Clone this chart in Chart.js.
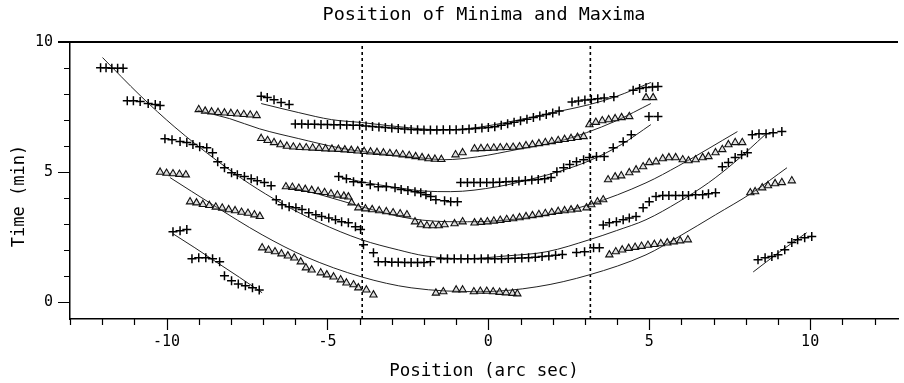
<!DOCTYPE html>
<html>
<head>
<meta charset="utf-8">
<title>Position of Minima and Maxima</title>
<script src="https://cdn.jsdelivr.net/npm/chart.js@4/dist/chart.umd.min.js"></script>
<style>
  html, body { margin: 0; padding: 0; background: #fff; overflow: hidden; }
  canvas { display: block; }
</style>
</head>
<body>
<canvas id="grafico" width="904" height="383"></canvas>
<script>
// axis ranges and labels
const xMin = -13, xMax = 12.73;
const yMin = -0.65, yMax = 10;
const titleText = 'Position of Minima and Maxima';
const xTitle = 'Position (arc sec)';
const yTitle = 'Time (min)   ';
const dashX = [-3.92, 3.17];

// maxima (+), [position, time]
const maxTop = [[-7.06,7.92],[-6.87,7.87],[-6.66,7.79],[-6.44,7.68],[-6.19,7.60],
  [-6.0,6.85],[-5.8,6.85],[-5.6,6.84],[-5.4,6.84],[-5.2,6.83],[-5.0,6.83],[-4.8,6.82],[-4.6,6.82],[-4.4,6.81],[-4.2,6.80],
  [-4.0,6.80],[-3.8,6.78],[-3.6,6.76],[-3.4,6.74],[-3.2,6.72],[-3.0,6.70],[-2.8,6.68],[-2.6,6.66],[-2.4,6.64],[-2.2,6.63],
  [-2.0,6.62],[-1.8,6.62],[-1.6,6.62],[-1.4,6.63],[-1.2,6.63],[-1.0,6.63],[-0.8,6.64],[-0.6,6.66],[-0.4,6.68],[-0.2,6.70],
  [0.0,6.72],[0.2,6.75],[0.4,6.80],[0.6,6.86],[0.8,6.92],[1.0,6.98],[1.2,7.04],[1.4,7.10],[1.6,7.16],[1.8,7.22],
  [2.0,7.28],[2.2,7.35],[2.6,7.70],[2.8,7.74],[3.0,7.78],[3.2,7.80],[3.4,7.82],[3.6,7.85],[3.9,7.90],
  [4.5,8.15],[4.7,8.22],[4.9,8.26],[5.1,8.28],[5.27,8.30]];
const maxMid = [[-4.65,4.83],[-4.41,4.75],[-4.19,4.63],[-3.94,4.60],[-3.67,4.52],[-3.42,4.44],[-3.17,4.44],[-2.90,4.40],
  [-2.71,4.33],[-2.50,4.29],[-2.28,4.25],[-2.10,4.21],[-1.94,4.13],[-1.79,4.06],[-1.63,3.94],[-1.36,3.90],[-1.17,3.86],[-0.96,3.86],
  [-0.86,4.60],[-0.65,4.60],[-0.45,4.60],[-0.25,4.60],[-0.05,4.60],[0.15,4.60],[0.35,4.61],[0.55,4.63],[0.75,4.64],[0.95,4.66],
  [1.15,4.68],[1.35,4.70],[1.55,4.72],[1.75,4.75],[1.95,4.79],
  [2.13,5.02],[2.34,5.17],[2.53,5.29],[2.74,5.40],[2.96,5.48],[3.14,5.56],[3.36,5.60],[3.60,5.60],[3.88,5.94],[4.19,6.17],[4.44,6.44],
  [4.99,7.14],[5.27,7.14]];
const maxLong = [[-12.05,9.02],[-11.88,9.02],[-11.70,9.00],[-11.52,9.00],[-11.35,9.00],
  [-11.22,7.75],[-11.03,7.75],[-10.82,7.72],[-10.57,7.64],[-10.35,7.60],[-10.20,7.56],
  [-10.05,6.29],[-9.83,6.25],[-9.58,6.18],[-9.37,6.14],[-9.18,6.06],[-8.97,5.98],[-8.75,5.94],[-8.57,5.75],
  [-8.41,5.40],[-8.20,5.17],[-7.98,4.98],[-7.80,4.90],[-7.58,4.83],[-7.37,4.75],[-7.18,4.67],[-6.96,4.60],[-6.75,4.48],
  [-6.59,3.94],[-6.41,3.75],[-6.19,3.67],[-5.98,3.63],[-5.79,3.56],[-5.58,3.44],[-5.36,3.36],[-5.18,3.29],[-4.96,3.24],
  [-4.75,3.17],[-4.56,3.09],[-4.35,3.05],[-4.13,2.90],[-3.97,2.79],
  [-3.88,2.21],[-3.57,1.90],
  [-3.42,1.55],[-3.20,1.55],[-3.00,1.53],[-2.80,1.53],[-2.60,1.52],[-2.40,1.52],[-2.20,1.52],[-2.00,1.52],[-1.80,1.55],
  [-1.48,1.67],[-1.27,1.67],[-1.06,1.67],[-0.85,1.67],[-0.64,1.67],[-0.43,1.67],[-0.22,1.67],[-0.01,1.67],[0.20,1.67],
  [0.41,1.67],[0.62,1.68],[0.83,1.69],[1.04,1.70],[1.25,1.71],[1.46,1.73],[1.67,1.75],[1.88,1.77],[2.09,1.80],[2.30,1.83],
  [2.74,1.91],[2.99,1.94],[3.27,2.09],[3.45,2.09],
  [3.57,2.97],[3.76,3.05],[3.98,3.09],[4.19,3.17],[4.38,3.24],[4.59,3.29],[4.81,3.63],[5.00,3.86],[5.21,4.06],
  [5.42,4.10],[5.61,4.10],[5.82,4.10],[6.04,4.10],[6.22,4.10],[6.44,4.13],[6.66,4.13],[6.84,4.17],[7.06,4.21],
  [7.27,5.21],[7.46,5.37],[7.67,5.56],[7.87,5.67],[8.05,5.75],
  [8.20,6.44],[8.41,6.48],[8.63,6.48],[8.85,6.52],[9.12,6.56]];
const maxShortL = [[-9.80,2.71],[-9.58,2.75],[-9.37,2.79],
  [-9.21,1.67],[-9.00,1.71],[-8.78,1.71],[-8.57,1.67],[-8.35,1.55],
  [-8.20,1.01],[-7.98,0.82],[-7.77,0.70],[-7.55,0.63],[-7.33,0.55],[-7.12,0.47]];
const maxShortR = [[8.38,1.63],[8.60,1.71],[8.81,1.75],[9.00,1.82],[9.21,2.01],[9.43,2.29],[9.61,2.40],[9.83,2.48],[10.05,2.52]];

// minima (triangles), [position, time]
const minTop = [[-9.00,7.41],[-8.80,7.35],[-8.60,7.32],[-8.40,7.30],[-8.20,7.28],[-8.00,7.26],[-7.80,7.24],[-7.60,7.22],[-7.40,7.20],[-7.20,7.18],
  [-7.06,6.30],[-6.86,6.22],[-6.66,6.14],[-6.46,6.06],[-6.26,6.00],[-6.06,5.97],[-5.86,5.95],[-5.66,5.94],[-5.46,5.93],[-5.26,5.92],
  [-5.06,5.90],[-4.86,5.89],[-4.66,5.88],[-4.46,5.86],[-4.26,5.84],[-4.06,5.82],[-3.86,5.80],[-3.66,5.78],[-3.46,5.76],[-3.26,5.74],
  [-3.06,5.72],[-2.86,5.70],[-2.66,5.67],[-2.46,5.64],[-2.26,5.60],[-2.06,5.56],[-1.86,5.52],[-1.66,5.50],[-1.46,5.49],
  [-1.02,5.67],[-0.80,5.75],
  [-0.43,5.90],[-0.23,5.91],[-0.03,5.92],[0.17,5.93],[0.37,5.94],[0.57,5.95],[0.77,5.96],[0.97,5.98],[1.17,6.02],
  [1.37,6.06],[1.57,6.10],[1.77,6.14],[1.97,6.18],[2.17,6.22],[2.37,6.26],[2.57,6.30],[2.77,6.34],[2.96,6.37],
  [3.14,6.83],[3.34,6.92],[3.54,6.98],[3.74,7.02],[3.94,7.06],[4.14,7.10],[4.38,7.14],
  [4.90,7.87],[5.12,7.87]];
const minMid = [[-6.29,4.44],[-6.09,4.42],[-5.89,4.38],[-5.69,4.34],[-5.49,4.30],[-5.29,4.26],[-5.09,4.22],[-4.89,4.17],[-4.69,4.12],[-4.49,4.08],[-4.35,4.05],
  [-4.25,3.82],[-4.04,3.63],[-3.82,3.59],[-3.61,3.56],[-3.39,3.52],[-3.17,3.48],[-2.96,3.44],[-2.74,3.40],[-2.53,3.36],
  [-2.28,3.09],[-2.10,2.98],[-1.91,2.94],[-1.73,2.94],[-1.54,2.94],[-1.36,2.98],
  [-1.05,3.02],[-0.80,3.09],
  [-0.43,3.05],[-0.23,3.07],[-0.03,3.09],[0.17,3.12],[0.37,3.15],[0.57,3.18],[0.77,3.21],[0.97,3.25],[1.17,3.29],
  [1.37,3.33],[1.57,3.37],[1.77,3.41],[1.97,3.45],[2.17,3.49],[2.37,3.52],[2.57,3.55],[2.77,3.58],[3.05,3.63],
  [3.20,3.75],[3.39,3.86],[3.57,3.94],
  [3.72,4.71],[3.94,4.82],[4.13,4.86],[4.38,4.98],[4.59,5.09],[4.81,5.21],[5.00,5.37],[5.21,5.40],[5.42,5.52],[5.61,5.56],
  [5.82,5.56],[6.04,5.48],[6.22,5.44],[6.44,5.48],[6.66,5.56],[6.84,5.60],[7.06,5.75],[7.27,5.87],[7.46,6.06],[7.67,6.14],[7.89,6.14]];
const minLow = [[-10.20,5.00],[-10.00,4.96],[-9.80,4.94],[-9.60,4.92],[-9.40,4.90],
  [-9.27,3.86],[-9.07,3.82],[-8.87,3.76],[-8.67,3.72],[-8.47,3.66],[-8.27,3.62],[-8.07,3.56],[-7.87,3.52],[-7.67,3.46],[-7.47,3.42],[-7.27,3.36],[-7.10,3.30],
  [-7.03,2.09],[-6.83,2.00],[-6.63,1.94],[-6.43,1.86],[-6.23,1.78],[-6.03,1.70],[-5.83,1.55],
  [-5.67,1.32],[-5.49,1.24],[-5.21,1.13],[-5.02,1.05],[-4.81,0.97],[-4.59,0.86],[-4.41,0.74],[-4.19,0.67],[-4.04,0.55],[-3.79,0.47],[-3.57,0.28],
  [-1.63,0.35],[-1.40,0.40],[-1.00,0.47],[-0.80,0.47],[-0.45,0.40],[-0.25,0.42],[-0.05,0.42],[0.15,0.40],[0.35,0.38],[0.55,0.36],[0.75,0.34],[0.90,0.32],
  [3.76,1.82],[3.96,1.94],[4.16,2.01],[4.36,2.07],[4.56,2.11],[4.76,2.15],[4.96,2.19],[5.16,2.22],[5.36,2.25],[5.56,2.28],[5.76,2.32],[5.96,2.36],[6.20,2.40],
  [8.14,4.21],[8.29,4.25],[8.51,4.40],[8.69,4.48],[8.91,4.56],[9.12,4.60],[9.43,4.67]];

// fitted curves, [position, time]
const fitTop = [[-7.06,7.64],[-5.89,7.29],[-4.87,7.02],[-3.94,6.91],[-2.80,6.75],[-1.48,6.63],[-0.65,6.67],[0.99,7.02],[2.31,7.37],[3.14,7.60],[3.97,7.91],[5.05,8.45]];
const fitTop2 = [[-9.03,7.37],[-8.04,7.06],[-7.12,6.67],[-5.89,6.29],[-4.65,5.94],[-3.42,5.71],[-2.19,5.56],[-1.36,5.48],[-0.34,5.59],[0.89,5.87],[2.13,6.17],[3.05,6.52],[3.98,6.98],[5.05,7.64]];
const fitMid = [[-4.65,4.83],[-3.94,4.63],[-2.80,4.40],[-1.97,4.27],[-1.17,4.25],[0.28,4.44],[1.51,4.79],[2.13,5.00],[3.14,5.44],[4.13,6.06],[5.05,6.83]];
const fitMid2 = [[-6.29,4.44],[-5.27,4.15],[-3.94,3.67],[-2.40,3.21],[-0.96,3.09],[0.28,3.13],[1.82,3.36],[3.14,3.75],[4.90,4.59],[5.92,5.25],[7.74,6.56]];
const fitLong = [[-11.99,9.41],[-10.82,7.95],[-9.74,6.73],[-8.44,5.45],[-7.43,4.56],[-6.41,3.79],[-5.27,3.07],[-3.94,2.40],[-2.80,2.01],[-1.97,1.78],
  [-0.74,1.67],[0.59,1.78],[1.82,1.94],[3.14,2.40],[3.98,2.75],[4.90,3.17],[5.92,3.86],[6.84,4.59],[7.67,5.40],[8.60,6.44]];
const fitLow = [[-9.89,4.79],[-8.57,3.75],[-7.03,2.59],[-5.67,1.74],[-3.94,0.97],[-2.40,0.55],[-0.25,0.40],[1.51,0.59],[3.14,1.05],[4.90,1.82],[5.92,2.52],[7.06,3.36],[8.20,4.21],[9.28,5.17]];
const fitShortL = [[-9.80,2.63],[-9.12,2.09],[-8.44,1.53],[-7.73,0.95],[-7.03,0.36]];
const fitShortR = [[8.23,1.16],[9.06,1.94],[9.89,2.67]];

const pts = arr => arr.map(([x, t]) => ({ x: x, y: t }));

const crossSet = arr => ({
  data: pts(arr), pointStyle: 'cross', pointRadius: 4.5, pointBorderWidth: 1.5,
  pointBorderColor: '#000', showLine: false
});
const triSet = arr => ({
  data: pts(arr), pointStyle: 'triangle', pointRadius: 4.2, pointBorderWidth: 1.1,
  pointBorderColor: '#111', pointBackgroundColor: 'rgba(160,160,160,0.35)', showLine: false
});
const curveSet = arr => ({
  data: pts(arr), showLine: true, pointRadius: 0, borderColor: '#222', borderWidth: 1,
  cubicInterpolationMode: 'monotone', fill: false
});
const dashSet = x => ({
  data: [{ x: x, y: yMin }, { x: x, y: yMax }], showLine: true, pointRadius: 0,
  borderColor: '#000', borderWidth: 1.6, borderDash: [3, 3]
});

const datasets = [
  crossSet(maxTop), crossSet(maxMid), crossSet(maxLong), crossSet(maxShortL), crossSet(maxShortR),
  triSet(minTop), triSet(minMid), triSet(minLow),
  curveSet(fitTop), curveSet(fitTop2), curveSet(fitMid), curveSet(fitMid2),
  curveSet(fitLong), curveSet(fitLow), curveSet(fitShortL), curveSet(fitShortR),
  dashSet(dashX[0]), dashSet(dashX[1])
];

// long ticks every 5, short every 1, plus the top frame line
const tickMarks = {
  id: 'tickMarks',
  afterDraw(chart) {
    const { ctx, chartArea: a, scales: { x, y } } = chart;
    ctx.save();
    ctx.strokeStyle = '#000';
    ctx.lineWidth = 1.2;
    ctx.beginPath();
    for (let v = Math.ceil(x.min); v <= x.max; v++) {
      const px = Math.round(x.getPixelForValue(v)) + 0.5;
      const len = v % 5 === 0 ? 11 : 6;
      ctx.moveTo(px, a.bottom);
      ctx.lineTo(px, a.bottom + len);
    }
    for (let v = Math.ceil(y.min); v <= y.max; v++) {
      const py = Math.round(y.getPixelForValue(v)) + 0.5;
      const len = v % 5 === 0 ? 12 : 6;
      ctx.moveTo(a.left, py);
      ctx.lineTo(a.left - len, py);
    }
    ctx.stroke();
    ctx.lineWidth = 2;
    ctx.beginPath();
    ctx.moveTo(a.left - 12, Math.round(a.top));
    ctx.lineTo(a.right, Math.round(a.top));
    ctx.stroke();
    ctx.restore();
  }
};

Chart.defaults.font.family = "'DejaVu Sans Mono', monospace";
Chart.defaults.color = '#000';

const ctx = document.getElementById('grafico').getContext('2d');
const myChart = new Chart(ctx, {
  type: 'scatter',
  data: { datasets },
  options: {
    responsive: false,
    animation: false,
    layout: { padding: 0 },
    plugins: {
      legend: { display: false },
      tooltip: { enabled: false },
      title: {
        display: true, text: titleText, fullSize: false,
        font: { size: 18.5, weight: 'normal' }, color: '#000',
        padding: { top: 4, bottom: 16 }
      }
    },
    scales: {
      x: {
        type: 'linear', min: xMin, max: xMax,
        afterFit: s => { s.height = 64; },
        grid: { display: true, drawOnChartArea: false, drawTicks: false },
        border: { display: true, color: '#000', width: 1.5 },
        ticks: {
          stepSize: 1, includeBounds: false, autoSkip: false, maxRotation: 0, padding: 14,
          font: { size: 15 }, color: '#000',
          callback: v => (v % 5 === 0 ? String(v) : '')
        },
        title: { display: true, text: xTitle, font: { size: 17.5 }, color: '#000', padding: { top: 0, bottom: 1 } }
      },
      y: {
        type: 'linear', min: yMin, max: yMax,
        afterFit: s => { s.width = 70; },
        grid: { display: true, drawOnChartArea: false, drawTicks: false },
        border: { display: true, color: '#000', width: 1.5 },
        ticks: {
          stepSize: 1, includeBounds: false, autoSkip: false, padding: 17,
          font: { size: 15 }, color: '#000',
          callback: v => (v % 5 === 0 ? String(v) : '')
        },
        title: { display: true, text: yTitle, font: { size: 17 }, color: '#000', padding: { top: 9, bottom: 0 } }
      }
    }
  },
  plugins: [tickMarks]
});
</script>
</body>
</html>
